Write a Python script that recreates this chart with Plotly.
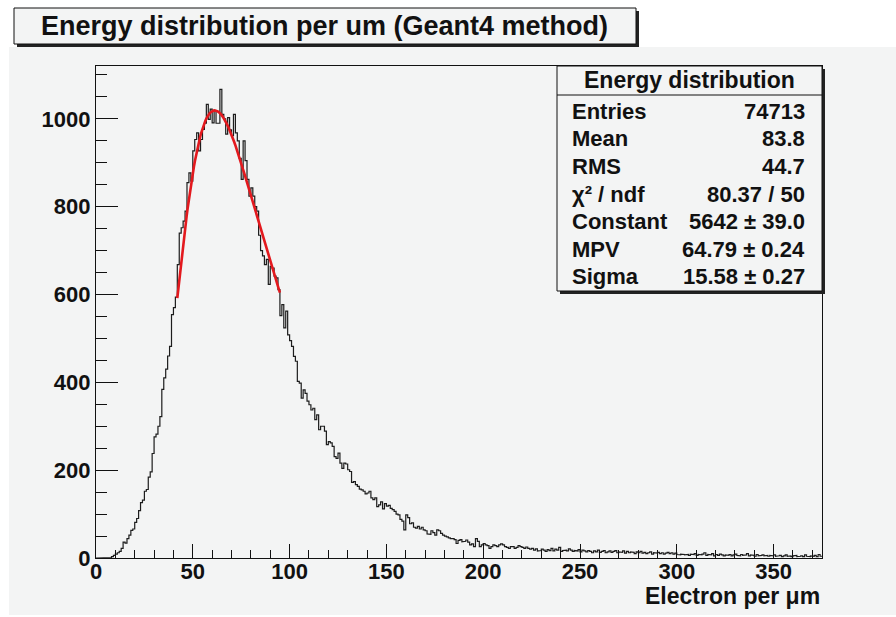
import numpy as np
import plotly.graph_objects as go

# ---------------------------------------------------------------------------
# Histogram contents: 375 bins of width 1 from 0 to 375 (electrons per um)
# ---------------------------------------------------------------------------
counts = (
    [0, 0, 0, 0, 0, 0, 0, 1, 3, 6, 9, 12, 15, 22, 36, 34, 44, 52, 63, 66, 81, 90, 108, 126, 132]
    + [152, 156, 184, 196, 238, 276, 282, 300, 322, 384, 410, 430, 460, 482, 554, 570, 594, 668, 740, 752, 767, 790, 855, 877, 858]
    + [927, 953, 968, 927, 953, 976, 990, 1033, 999, 1022, 991, 1018, 990, 990, 1067, 1010, 1000, 965, 1003, 975, 962, 1010, 968, 950, 910]
    + [862, 950, 905, 862, 824, 843, 824, 800, 790, 735, 700, 688, 668, 680, 623, 664, 660, 642, 638, 611, 552, 577, 524, 562, 508]
    + [495, 482, 459, 448, 402, 398, 364, 383, 375, 357, 349, 337, 341, 315, 326, 292, 300, 300, 289, 258, 265, 262, 254, 231, 227]
    + [239, 216, 204, 216, 214, 201, 197, 172, 174, 167, 163, 157, 155, 152, 146, 148, 152, 137, 133, 137, 117, 121, 128, 112, 124]
    + [118, 120, 113, 110, 106, 100, 98, 88, 84, 64, 98, 92, 78, 80, 70, 68, 72, 66, 70, 64, 62, 55, 54, 62, 58]
    + [52, 64, 62, 56, 52, 50, 48, 46, 44, 44, 42, 33, 40, 42, 37, 38, 41, 36, 30, 32, 26, 44, 38, 26, 30]
    + [33, 30, 28, 22, 26, 30, 28, 26, 30, 32, 30, 26, 24, 22, 26, 26, 22, 24, 28, 26, 24, 22, 25, 22, 20]
    + [22, 18, 21, 16, 17, 20, 18, 15, 19, 17, 22, 16, 20, 18, 24, 15, 17, 18, 16, 21, 18, 15, 17, 16, 19]
    + [14, 18, 16, 14, 17, 15, 12, 16, 14, 18, 13, 15, 17, 12, 14, 16, 13, 15, 17, 12, 14, 13, 16, 11, 15]
    + [12, 14, 13, 10, 14, 12, 15, 11, 13, 10, 12, 14, 9, 12, 11, 13, 10, 12, 9, 11, 13, 10, 12, 9, 11]
    + [8, 7, 9, 8, 7, 8, 6, 9, 8, 10, 6, 8, 7, 9, 12, 6, 8, 7, 10, 5, 8, 6, 9, 7, 5]
    + [7, 6, 8, 5, 7, 9, 6, 5, 8, 6, 7, 10, 5, 7, 6, 4, 8, 5, 6, 7, 5, 6, 4, 6, 5]
    + [7, 4, 5, 6, 3, 5, 7, 4, 5, 3, 5, 6, 3, 4, 5, 3, 7, 4, 3, 5, 4, 6, 3, 8, 4]
)
x_low, x_high = 0.0, 375.0

# Landau fit result and fit range
fit_constant = 5642.0
fit_mpv = 64.79
fit_sigma = 15.58
fit_range = [42.0, 95.0]

# Statistics box rows (label, value)
stats_title = "Energy distribution"
stats_labels = ["Entries", "Mean", "RMS", "\u03c7\u00b2 / ndf", "Constant", "MPV", "Sigma"]
stats_values = ["74713", "83.8", "44.7", "80.37 / 50", "5642 \u00b1 39.0", "64.79 \u00b1 0.24", "15.58 \u00b1 0.27"]

title_text = "Energy distribution per um (Geant4 method)"
x_title = "Electron per \u03bcm"

# ---------------------------------------------------------------------------
counts = np.asarray(counts, dtype=float)
edges = np.linspace(x_low, x_high, len(counts) + 1)
step_x = np.repeat(edges, 2)[1:-1]
step_y = np.repeat(counts, 2)
y_max = 1.05 * counts.max()


def landau(x, mpv, sigma):
    """Landau density (ROOT TMath::Landau convention, not normalised)."""
    lam = (np.asarray(x, dtype=float) - mpv) / sigma
    t = np.linspace(1e-12, 60.0, 120001)
    tlogt = t * np.log(t)
    integ = np.exp(-tlogt[None, :] - lam[:, None] * t[None, :]) * np.sin(np.pi * t)[None, :]
    return np.trapezoid(integ, t, axis=1) / np.pi


fit_x = np.linspace(fit_range[0], fit_range[1], 100)
fit_y = fit_constant * landau(fit_x, fit_mpv, fit_sigma)

# ---------------------------------------------------------------------------
W, H = 896, 617
L, R, T, B = 96, 822, 66, 558
PAD = "#f3f4f4"
INK = "#111111"
FONT = "Liberation Sans, Arial, Helvetica, sans-serif"


def px(xp):
    return (xp - L) / (R - L)


def py(yp):
    return (B - yp) / (B - T)


fig = go.Figure()
fig.add_trace(go.Scatter(x=step_x, y=step_y, mode="lines",
                         line=dict(color="#1c1c1c", width=1.2), hoverinfo="skip"))
fig.add_trace(go.Scatter(x=fit_x, y=fit_y, mode="lines",
                         line=dict(color="#e3191e", width=2.6), hoverinfo="skip"))

tickfont = dict(family=FONT, size=22, color=INK, weight="bold")

fig.update_xaxes(range=[x_low, x_high], tick0=0, dtick=50, ticks="inside", ticklen=14,
                 tickwidth=1, tickcolor=INK, ticklabelstandoff=-7,
                 minor=dict(dtick=10, tick0=0, ticks="inside", ticklen=8, tickwidth=1, tickcolor=INK),
                 showline=True, mirror=True, linecolor=INK, linewidth=1.3,
                 showgrid=False, zeroline=False, tickfont=tickfont)
fig.update_yaxes(range=[0, y_max], tick0=0, dtick=200, ticks="inside", ticklen=22,
                 tickwidth=1, tickcolor=INK,
                 minor=dict(dtick=50, tick0=0, ticks="inside", ticklen=11, tickwidth=1, tickcolor=INK),
                 showline=True, mirror=True, linecolor=INK, linewidth=1.3,
                 showgrid=False, zeroline=False, tickfont=tickfont)

shapes = []
# canvas fill
shapes.append(dict(type="rect", xref="paper", yref="paper", layer="below",
                   x0=px(9), x1=px(896), y0=py(615), y1=py(47),
                   fillcolor=PAD, line=dict(width=0)))
# title box with shadow
shapes.append(dict(type="rect", xref="paper", yref="paper",
                   x0=px(17), x1=px(639), y0=py(47), y1=py(11),
                   fillcolor="#222222", line=dict(width=0)))
shapes.append(dict(type="rect", xref="paper", yref="paper",
                   x0=px(14), x1=px(636), y0=py(44), y1=py(8),
                   fillcolor=PAD, line=dict(color=INK, width=1)))
# statistics box with shadow
shapes.append(dict(type="rect", xref="paper", yref="paper",
                   x0=px(560), x1=px(825), y0=py(294), y1=py(69),
                   fillcolor="#222222", line=dict(width=0)))
shapes.append(dict(type="rect", xref="paper", yref="paper",
                   x0=px(557), x1=px(822), y0=py(291), y1=py(66),
                   fillcolor=PAD, line=dict(color=INK, width=1)))
shapes.append(dict(type="line", xref="paper", yref="paper",
                   x0=px(557), x1=px(822), y0=py(95), y1=py(95),
                   line=dict(color=INK, width=1)))

ann = []
ann.append(dict(text=title_text, x=px(324), y=py(26), xref="paper", yref="paper",
                xanchor="center", yanchor="middle", showarrow=False,
                font=dict(family=FONT, size=27, color=INK, weight="bold")))
ann.append(dict(text=stats_title, x=px(689.5), y=py(80), xref="paper", yref="paper",
                xanchor="center", yanchor="middle", showarrow=False,
                font=dict(family=FONT, size=23, color=INK, weight="bold")))
row_y0, row_dy = 111.5, 27.5
for i, (lab, val) in enumerate(zip(stats_labels, stats_values)):
    yy = py(row_y0 + i * row_dy)
    ann.append(dict(text=lab, x=px(570), y=yy, xref="paper", yref="paper",
                    xanchor="left", yanchor="middle", showarrow=False,
                    font=dict(family=FONT, size=22, color=INK, weight="bold")))
    ann.append(dict(text=val, x=px(807), y=yy, xref="paper", yref="paper",
                    xanchor="right", yanchor="middle", showarrow=False,
                    font=dict(family=FONT, size=22, color=INK, weight="bold")))
ann.append(dict(text=x_title, x=px(822), y=py(596), xref="paper", yref="paper",
                xanchor="right", yanchor="middle", showarrow=False,
                font=dict(family=FONT, size=23, color=INK, weight="bold")))

fig.update_layout(width=W, height=H, margin=dict(l=L, r=W - R, t=T, b=H - B),
                  paper_bgcolor="white", plot_bgcolor=PAD, showlegend=False,
                  shapes=shapes, annotations=ann)

fig.write_html("out.html")
